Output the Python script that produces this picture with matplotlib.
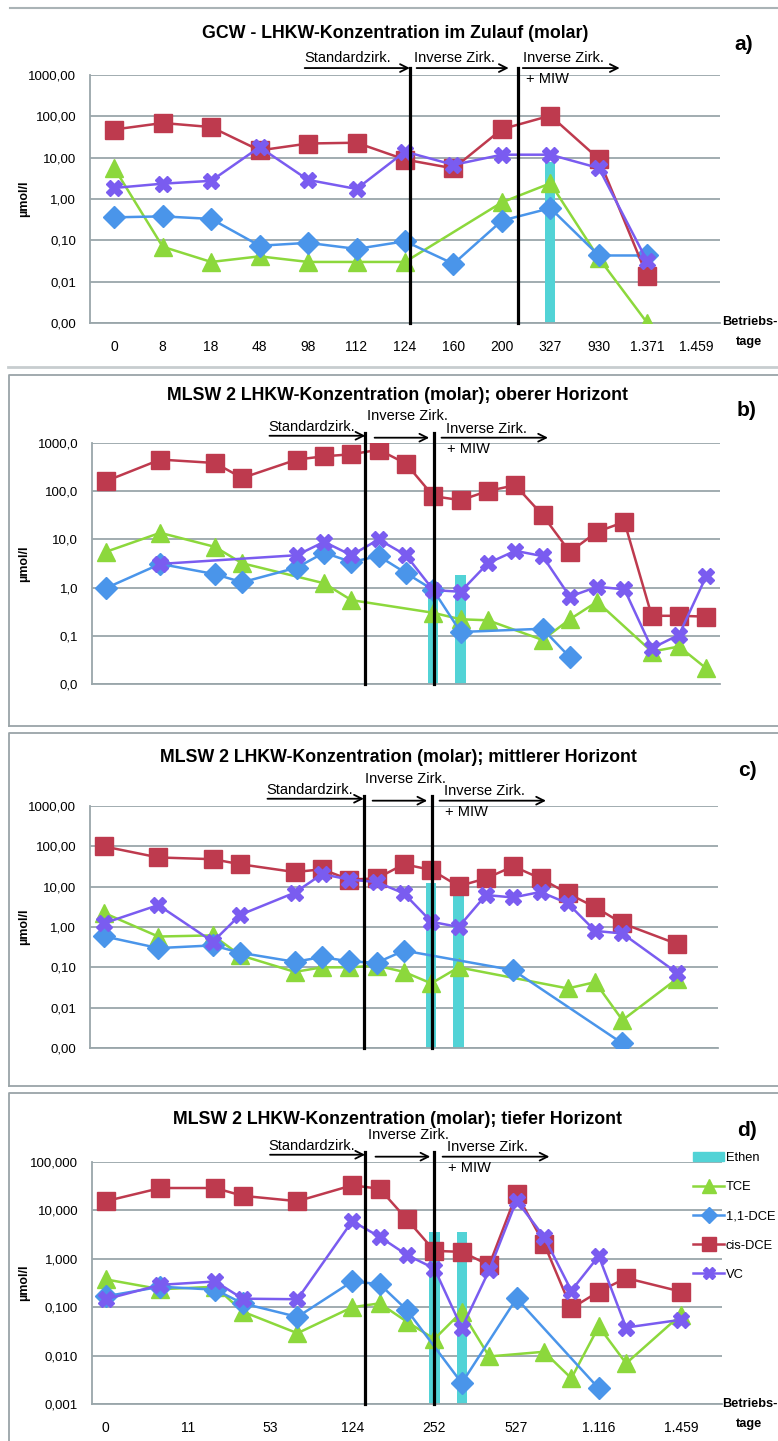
import numpy as np
import matplotlib.pyplot as plt
from matplotlib.lines import Line2D
from matplotlib.patches import Patch
from matplotlib.transforms import blended_transform_factory

plt.rcParams['font.family'] = ['Liberation Sans', 'DejaVu Sans']

N = np.nan

# a) GCW - inflow, 13 sampling dates
days_a = ['0', '8', '18', '48', '98', '112', '124', '160', '200', '327', '930', '1.371', '1.459']
ethen_a = [N, N, N, N, N, N, N, N, N, 8, N, N, N]
tce_a = [5.6, 0.07, 0.03, 0.041, 0.03, 0.03, 0.03, N, 0.83, 2.4, 0.037, 0.001, N]
dce11_a = [0.36, 0.38, 0.33, 0.074, 0.087, 0.062, 0.095, 0.027, 0.30, 0.60, 0.043, 0.043, N]
cis_a = [48, 69, 55, 15, 22, 23, 9, 5.5, 49, 104, 9.3, 0.0134, N]
vc_a = [1.85, 2.35, 2.75, 18, 2.9, 1.75, 14, 6.7, 11.8, 11.8, 5.6, 0.031, N]

# MLSW 2, 23 sampling slots, every third one labelled
days_mlsw = ['0', '', '', '11', '', '', '53', '', '', '124', '', '', '252', '', '',
             '527', '', '', '1.116', '', '', '1.459', '']

# b) upper horizon
ethen_b = [N]*12 + [0.8, 1.8] + [N]*9
tce_b = [5.5, N, 13.7, N, 7.0, 3.2, N, N, 1.23, 0.55, N, N, 0.30, 0.22, 0.21, N,
         0.082, 0.22, 0.51, N, 0.047, 0.060, 0.021]
dce11_b = [0.97, N, 3.1, N, 1.9, 1.29, N, 2.6, 5.3, 3.4, 4.5, 2.0, 0.89, 0.12, N, N,
           0.14, 0.036, N, N, N, N, N]
cis_b = [161, N, 453, N, 385, 188, N, 453, 530, 583, 725, 374, 79, 65, 101, 133,
         32, 5.5, 14.4, 23, 0.26, 0.26, 0.25]
vc_b = [N, N, 3.1, N, N, N, N, 4.7, 8.9, 4.7, 10, 4.7, 0.89, 0.82, 3.2, 5.8,
        4.5, 0.65, 1.04, 0.92, 0.055, 0.105, 1.74]

# c) middle horizon
ethen_c = [N]*12 + [12, 6] + [N]*9
tce_c = [2.25, N, 0.58, N, 0.62, 0.2, N, 0.077, 0.1, 0.1, 0.11, 0.077, 0.04, 0.1, N, N,
         N, 0.03, 0.043, 0.0049, N, 0.052, N]
dce11_c = [0.59, N, 0.30, N, 0.35, 0.23, N, 0.137, 0.18, 0.14, 0.13, 0.26, N, N, N, 0.085,
           N, N, N, 0.0013, N, N, N]
cis_c = [100, N, 53, N, 48, 36, N, 23, 27, 15, 16, 36, 26, 10.3, 16, 32,
         16, 6.8, 3.1, 1.23, N, 0.38, N]
vc_c = [1.23, N, 3.5, N, 0.43, 2.0, N, 7.1, 20.5, 15, 13, 6.8, 1.35, 1.0, 6.2, 5.4,
        7.4, 3.85, 0.8, 0.69, N, 0.073, N]

# d) deep horizon
ethen_d = [N]*12 + [3.6, 3.6] + [N]*9
tce_d = [0.376, N, 0.235, N, 0.265, 0.081, N, 0.029, N, 0.10, 0.12, 0.05, 0.022, 0.081, 0.0096, N,
         0.012, 0.0034, 0.04, 0.0069, N, 0.07, N]
dce11_d = [0.168, N, 0.265, N, 0.23, 0.12, N, 0.063, N, 0.34, 0.30, 0.087, N, 0.0027, N, 0.152,
           N, N, 0.0021, N, N, N, N]
cis_d = [15.5, N, 29, N, 29, 20, N, 15.5, N, 33, 28, 6.5, 1.46, 1.39, 0.74, 22,
         2.07, 0.095, 0.21, 0.40, N, 0.21, N]
vc_d = [0.146, N, 0.29, N, 0.34, 0.15, N, 0.146, N, 6.0, 2.85, 1.2, 0.63, 0.037, 0.58, 16,
        2.85, 0.22, 1.14, 0.038, N, 0.055, N]

C_ETH = '#52d3d6'
C_TCE = '#8cd83c'
C_DCE = '#4a95ea'
C_CIS = '#be3a4e'
C_VC = '#7a5cf0'
GRID = '#9aa6aa'

styles = [('TCE', C_TCE, '^', 13), ('1,1-DCE', C_DCE, 'D', 11),
          ('cis-DCE', C_CIS, 's', 13), ('VC', C_VC, 'X', 12)]

fig = plt.figure(figsize=(7.78, 14.41), dpi=100)
W, H = 778.0, 1441.0


def make_ax(left, top, right, bottom):
    return fig.add_axes([left / W, 1 - bottom / H, (right - left) / W, (bottom - top) / H])


def draw(ax, days, ethen, series, ylo, yhi, fmt, bar_w, xtick_step, vlines, vtop,
         arrows, texts):
    x = np.arange(len(days))
    ax.set_yscale('log')
    ax.set_ylim(ylo, yhi)
    ax.set_xlim(-0.5, len(days) - 0.5)
    e = np.array(ethen, dtype=float)
    m = ~np.isnan(e)
    ax.bar(x[m], e[m] - ylo, bottom=ylo, width=bar_w, color=C_ETH, zorder=2)
    for vals, (name, col, mk, ms) in zip(series, styles):
        v = np.array(vals, dtype=float)
        k = ~np.isnan(v)
        ax.plot(x[k], v[k], color=col, lw=1.8, marker=mk, ms=ms, mec=col, zorder=3)
    ticks = 10.0 ** np.arange(np.log10(ylo), np.log10(yhi) + 0.5)
    ax.set_yticks(ticks)
    ax.set_yticklabels([(fmt % t).replace('.', ',') for t in ticks], fontsize=9.5)
    ax.minorticks_off()
    ax.grid(axis='y', color=GRID, lw=1.3, zorder=0)
    ax.set_axisbelow(True)
    for s in ['top', 'right']:
        ax.spines[s].set_visible(False)
    for s in ['left', 'bottom']:
        ax.spines[s].set_color(GRID)
        ax.spines[s].set_linewidth(1.3)
    ax.tick_params(length=0, pad=10)
    if xtick_step:
        ax.set_xticks(x[::xtick_step])
        ax.set_xticklabels(days[::xtick_step], fontsize=10)
        ax.tick_params(axis='x', pad=12)
    else:
        ax.set_xticks([])
    tr = blended_transform_factory(ax.transData, ax.transAxes)
    for xv in vlines:
        ax.add_line(Line2D([xv, xv], [0, vtop], transform=tr, color='black', lw=2.3,
                           clip_on=False, zorder=5))
    for x0, x1, y in arrows:
        ax.annotate('', xy=(x1, y), xytext=(x0, y), xycoords=tr, textcoords=tr,
                    arrowprops=dict(arrowstyle='->', lw=1.3, color='black',
                                    mutation_scale=14, shrinkA=0, shrinkB=0))
    for xv, y, s, ha in texts:
        ax.text(xv, y, s, transform=tr, ha=ha, va='center', fontsize=10.5)


# panel frames
fig.add_artist(Line2D([10 / W, 1], [1 - 8 / H] * 2, color='#aab3b6', lw=1.5))
fig.add_artist(Line2D([8 / W, 1], [1 - 366.7 / H] * 2, color='#c7cdcf', lw=2))
for top, bot in [(375, 726), (733, 1086), (1093, 1445)]:
    fig.add_artist(Line2D([8.5 / W, 8.5 / W, 1], [1 - bot / H, 1 - top / H, 1 - top / H],
                          color='#9aa4a8', lw=1.3))
    fig.add_artist(Line2D([8.5 / W, 1], [1 - bot / H] * 2, color='#9aa4a8', lw=1.3))

# a)
ax_a = make_ax(90, 75, 720, 323)
draw(ax_a, days_a, ethen_a, [tce_a, dce11_a, cis_a, vc_a], 1e-3, 1e3, '%.2f', 0.21, 1,
     [6.1, 8.34], 1.028,
     [(3.93, 6.1, 1.028), (6.24, 8.14, 1.028), (8.43, 10.43, 1.028)],
     [(3.93, 1.07, 'Standardzirk.', 'left'), (6.18, 1.07, 'Inverse Zirk.', 'left'),
      (8.43, 1.07, 'Inverse Zirk.', 'left'), (8.5, 0.984, '+ MIW', 'left')])
fig.text(395 / W, 1 - 33 / H, 'GCW - LHKW-Konzentration im Zulauf (molar)',
         ha='center', va='center', fontsize=12.8, fontweight='bold')
fig.text(744 / W, 1 - 45 / H, 'a)', ha='center', va='center', fontsize=15, fontweight='bold')

# b), c), d)
panels = [
    ('b)', 'MLSW 2 LHKW-Konzentration (molar); oberer Horizont', (92, 443, 720, 684),
     ethen_b, [tce_b, dce11_b, cis_b, vc_b], 1e-2, 1e3, '%.1f', 0, [9.51, 12.01], 395, 410),
    ('c)', 'MLSW 2 LHKW-Konzentration (molar); mittlerer Horizont', (90, 806, 718, 1048),
     ethen_c, [tce_c, dce11_c, cis_c, vc_c], 1e-3, 1e3, '%.2f', 0, [9.53, 12.04], 758, 770),
    ('d)', 'MLSW 2 LHKW-Konzentration (molar); tiefer Horizont', (92, 1162, 722, 1404),
     ethen_d, [tce_d, dce11_d, cis_d, vc_d], 1e-3, 1e2, '%.3f', 3, [9.47, 12.0], 1120, 1130),
]
axes = [ax_a]
for lab, title, box, eth, ser, lo, hi, fmt, step, vl, ty, ly in panels:
    ax = make_ax(*box)
    draw(ax, days_mlsw, eth, ser, lo, hi, fmt, 0.38, step, vl, 1.043,
         [(6.0, vl[0], 1.03), (9.85, 11.85, 1.022), (12.3, 16.2, 1.022)],
         [(5.95, 1.068, 'Standardzirk.', 'left'), (11.05, 1.11, 'Inverse Zirk.', 'center'),
          (12.45, 1.06, 'Inverse Zirk.', 'left'), (12.5, 0.975, '+ MIW', 'left')])
    fig.text(398 / W, 1 - ty / H, title, ha='center', va='center', fontsize=12.8,
             fontweight='bold')
    fig.text(747 / W, 1 - ly / H, lab, ha='center', va='center', fontsize=15, fontweight='bold')
    axes.append(ax)

# x-axis caption "Betriebstage" for a) and d)
for yb in [322, 1404]:
    fig.text(722 / W, 1 - yb / H, 'Betriebs-', ha='left', va='center', fontsize=9.2,
             fontweight='bold')
    fig.text(736 / W, 1 - (yb + 20) / H, 'tage', ha='left', va='center', fontsize=9.2,
             fontweight='bold')

for ax in axes:
    pos = ax.get_position()
    fig.text(24 / W, pos.y0 + pos.height / 2, 'µmol/l', rotation=90, ha='center',
             va='center', fontsize=9, fontweight='bold')

# legend next to panel d
handles = [Patch(color=C_ETH)] + [Line2D([], [], color=c, lw=1.8, marker=mk, ms=ms * 0.75)
                                   for _, c, mk, ms in styles]
labels = ['Ethen'] + [s[0] for s in styles]
fig.legend(handles, labels, loc='upper left', bbox_to_anchor=(693 / W, 1 - 1152 / H),
           frameon=False, fontsize=9.3, handlelength=2.4, handleheight=0.6,
           handletextpad=0.15, labelspacing=1.33, borderpad=0, borderaxespad=0)

fig.savefig('out.png', dpi=100)
